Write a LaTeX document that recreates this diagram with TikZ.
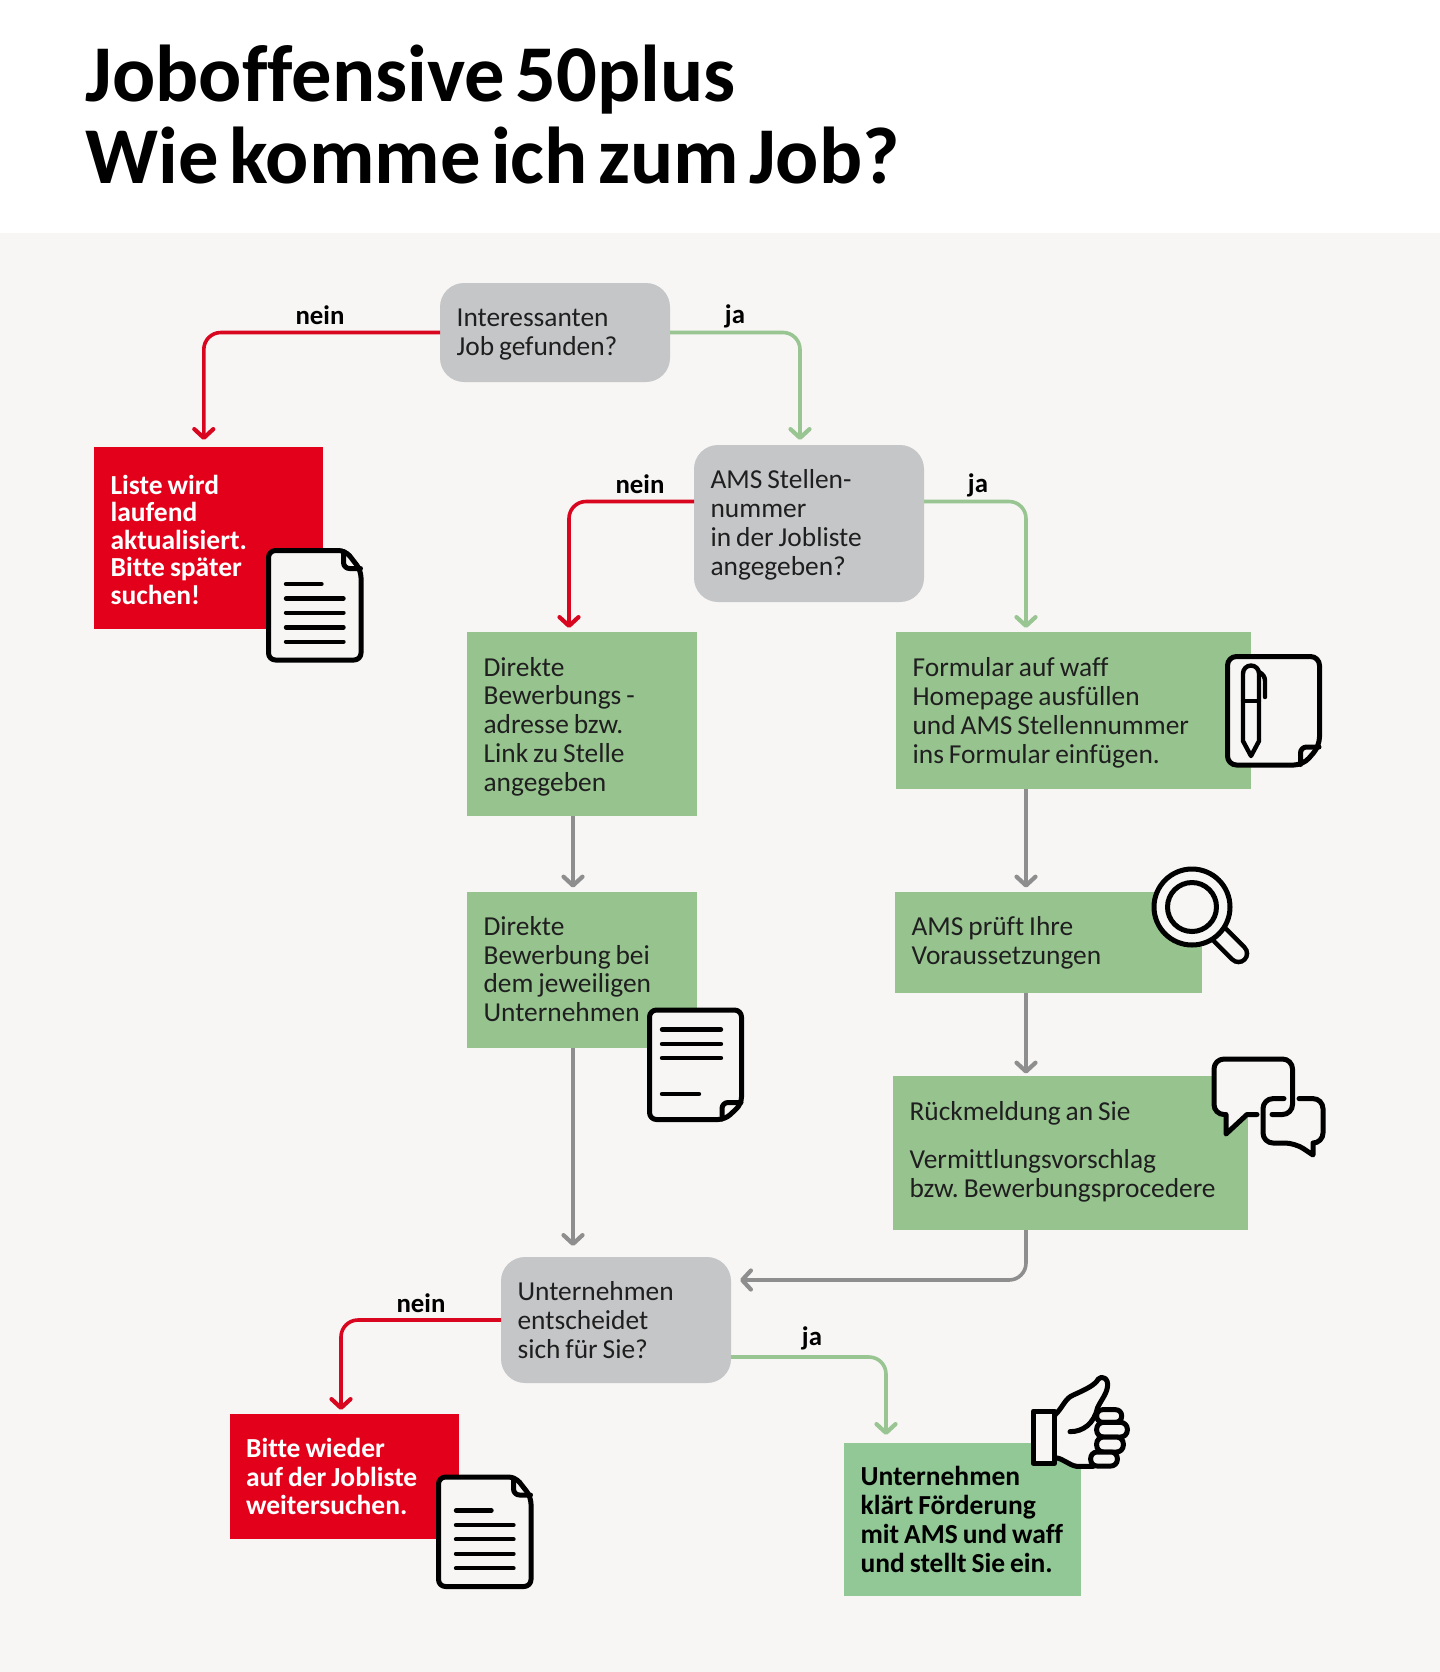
\documentclass[tikz,border=0pt]{standalone}
\usepackage{fontspec}
\setmainfont[Ligatures=NoCommon]{Carlito}
\frenchspacing
\usetikzlibrary{arrows.meta}
\definecolor{bgc}{HTML}{F7F6F4}
\definecolor{boxgreen}{HTML}{97C38F}
\definecolor{fingreen}{HTML}{92C796}
\definecolor{boxgray}{HTML}{C5C6C8}
\definecolor{boxred}{HTML}{E2001A}
\definecolor{lnred}{HTML}{D8071F}
\definecolor{lngreen}{HTML}{98C592}
\definecolor{lngray}{HTML}{8E8E8E}
\newcommand\topfix[1]{\rule{0pt}{#1}}
\newcommand\botfix[1]{\rule[-#1]{0pt}{#1}}
\newcommand\bodyface{\fontsize{13.7}{14.4}\selectfont\spaceskip=.18em\relax}
\newcommand\boldface{\fontsize{13.75}{14.4}\selectfont\bfseries\spaceskip=.18em\relax}
\newcommand\boldtight{\fontsize{13.75}{13.8}\selectfont\bfseries\spaceskip=.18em\relax}
\newcommand\titleface{\fontsize{40.3}{41}\selectfont\bfseries\spaceskip=.13em\relax}
\tikzset{
  bodyfont/.style={font=\bodyface},
  boldfont/.style={font=\boldface},
  flowbox/.style={inner ysep=0pt,inner xsep=8.3pt,outer sep=0pt,align=flush left,anchor=center},
  greenbox/.style={flowbox,fill=boxgreen,text=black!88,bodyfont},
  finalbox/.style={flowbox,fill=fingreen,text=black,boldfont},
  graybox/.style={flowbox,fill=boxgray,text=black!88,rounded corners=12pt,bodyfont},
  redbox/.style={flowbox,fill=boxred,text=white,boldfont},
  lbl/.style={font=\fontsize{13.4}{14}\selectfont\bfseries,text=black,inner sep=0pt},
  conn/.style={line width=1.8pt,rounded corners=8.5pt,
    -{Straight Barb[length=4.4pt,width=9.5pt,line width=2.1pt,round]},line cap=butt},
  connred/.style={conn,draw=lnred},
  conngreen/.style={conn,draw=lngreen},
  conngray/.style={conn,draw=lngray},
  ic/.style={draw=black,line width=2.5pt,line join=round,line cap=round},
  icthin/.style={draw=black,line width=2.2pt,line join=round,line cap=round},
  docicon/.pic={
    \draw[ic,fill=bgc,rounded corners=3.5pt] (0,0) -- (77,0) -- (92.5,20) -- (92.5,109.5) -- (0,109.5) -- cycle;
    \draw[ic,rounded corners=3pt] (75,1) -- (75,18) -- (92,18);
    \draw[icthin] (17.5,33.5) -- (53,33.5);
    \draw[icthin] (17.5,48) -- (75,48);
    \draw[icthin] (17.5,62.2) -- (75,62.2);
    \draw[icthin] (17.5,76.8) -- (75,76.8);
    \draw[icthin] (17.5,91.2) -- (75,91.2);
  }
}
\begin{document}
\begin{tikzpicture}[x=0.5pt,y=-0.5pt]
\useasboundingbox (0,0) rectangle (1440,1672);
\fill[white] (0,0) rectangle (1440,233);
\fill[bgc] (0,233) rectangle (1440,1672);

\node[font=\titleface,text=black,align=flush left,anchor=west,inner sep=0pt] (title) at (85,115) {Joboffensive 50plus\\Wie komme ich zum Job?};

% decision and step boxes
\node[graybox,minimum height=49.5pt,text width=98.4pt] (q1) at (555,332.5) {\topfix{10.8pt}Interessanten\\Job gefunden?};
\node[redbox,minimum height=91pt,text width=97.9pt,font=\boldtight] (red1) at (208.5,538) {\topfix{11.4pt}Liste wird\\laufend\\aktualisiert.\\Bitte später\\suchen!};
\node[graybox,minimum height=78.5pt,text width=98.4pt] (q2) at (809,523.5) {\topfix{10.9pt}AMS Stellen-\\nummer\\in der Jobliste\\angegeben?};
\node[greenbox,minimum height=92pt,text width=98.4pt] (d1) at (582,724) {\topfix{12pt}Direkte\\Bewerbungs -\\adresse bzw.\\Link zu Stelle\\angegeben};
\node[greenbox,minimum height=78pt,text width=98.4pt] (d2) at (582,970) {Direkte\\Bewerbung bei\\dem jeweiligen\\Unternehmen\botfix{1pt}};
\node[greenbox,minimum height=78.5pt,text width=160.9pt] (form) at (1073.5,710.5) {\topfix{12pt}Formular auf waff\\Homepage ausfüllen\\und AMS Stellennummer\\ins Formular einfügen.};
\node[greenbox,minimum height=50.5pt,text width=136.9pt] (ams) at (1048.5,942.5) {AMS prüft Ihre\\Voraussetzungen};
\node[greenbox,minimum height=77pt,text width=160.9pt] (rueck) at (1070.5,1153) {Rückmeldung an Sie\\[9.5pt]Vermittlungsvorschlag\\bzw. Bewerbungsprocedere\botfix{3.6pt}};
\node[graybox,minimum height=63pt,text width=98.4pt] (q3) at (616,1320) {Unternehmen\\entscheidet\\sich für Sie?};
\node[redbox,minimum height=62.5pt,text width=97.9pt] (red2) at (344,1476.5) {Bitte wieder\\auf der Jobliste\\weitersuchen.};
\node[finalbox,minimum height=76.5pt,text width=101.9pt] (fin) at (962.5,1519.5) {\mbox{Unternehmen}\\\mbox{klärt Förderung}\\\mbox{mit AMS und waff}\\\mbox{und stellt Sie ein.}};

% connector labels
\node[lbl] (l1) at (320,315) {nein};
\node[lbl] (l2) at (735,316) {ja};
\node[lbl] (l3) at (640,484) {nein};
\node[lbl] (l4) at (978,485) {ja};
\node[lbl] (l5) at (421,1303) {nein};
\node[lbl] (l6) at (812,1338) {ja};

% connectors
\draw[connred,shorten >=3.5pt] (q1.west) -| ([xshift=-2.35pt]red1.north);
\draw[conngreen,shorten >=2.5pt] (q1.east) -| ([xshift=-4.5pt]q2.north);
\draw[connred,shorten >=2pt] ([yshift=11pt]q2.west) -| ([xshift=-6.5pt]d1.north);
\draw[conngreen,shorten >=2pt] ([yshift=11pt]q2.east) -| ([xshift=-23.75pt]form.north);
\draw[conngray,shorten >=2.2pt] ([xshift=-4.5pt]d1.south) -- ([xshift=-4.5pt]d2.north);
\draw[conngray,shorten >=5.5pt] ([xshift=-4.5pt]d2.south) -- ([xshift=-21.5pt]q3.north);
\draw[conngray,shorten >=2.2pt] ([xshift=-23.75pt]form.south) -- ([xshift=-11.25pt]ams.north);
\draw[conngray,shorten >=1.2pt] ([xshift=-11.25pt]ams.south) -- ([xshift=-22.25pt]rueck.north);
\draw[conngray,shorten >=4.5pt] ([xshift=-22.25pt]rueck.south) |- ([yshift=20pt]q3.east);
\draw[connred,shorten >=2pt] (q3.west) -| ([xshift=-1.5pt]red2.north);
\draw[conngreen,shorten >=4pt] ([yshift=-18.5pt]q3.east) -| ([xshift=-38.25pt]fin.north);

% document icons
\pic at (268.5,550.5) {docicon};
\pic at (438.5,1477) {docicon};

% document icon with corner fold at the bottom
\draw[ic,fill=bgc,rounded corners=3.5pt] (649.5,1010) -- (741.5,1010) -- (741.5,1104) -- (725,1119.5) -- (649.5,1119.5) -- cycle;
\draw[ic,rounded corners=3pt] (741,1102.5) -- (722,1102.5) -- (722,1119);
\draw[icthin] (662,1029.5) -- (721,1029.5);
\draw[icthin] (662,1044) -- (721,1044);
\draw[icthin] (662,1058) -- (721,1058);
\draw[icthin] (662,1094) -- (699,1094);

% note with pen
\draw[ic,fill=bgc,rounded corners=4.5pt] (1227.5,656.5) -- (1319.5,656.5) -- (1319.5,746) -- (1303,765) -- (1227.5,765) -- cycle;
\draw[ic,rounded corners=3pt] (1319,747) -- (1300.5,747) -- (1300.5,764.5);
\draw[icthin,fill=bgc] (1243,741) -- (1243,673.5) arc[start angle=180,end angle=0,radius=4pt] -- (1259,741) -- (1251,756) -- cycle;
\draw[icthin] (1243,701) -- (1259,701);
\draw[icthin] (1259,672) .. controls (1263,674) and (1265,677) .. (1265,681) -- (1265,697);

% magnifier
\draw[black,line width=10.8pt,line cap=round] (1220,935) -- (1238.5,953.5);
\draw[bgc,line width=6.2pt,line cap=round] (1220,935) -- (1238.5,953.5);
\draw[ic,fill=bgc] (1192,907) circle[radius=19pt];
\draw[ic] (1192,907) circle[radius=12.25pt];

% speech bubbles
\fill[bgc,rounded corners=5pt] (1214,1059) rectangle (1292.5,1114.5);
\fill[bgc] (1226,1114) -- (1226,1134) -- (1247,1114) -- cycle;
\fill[bgc,rounded corners=5pt] (1263,1098.6) rectangle (1323,1143);
\fill[bgc] (1295,1143) -- (1313,1155) -- (1313,1143) -- cycle;
\draw[ic] (1257,1114.5) [sharp corners] -- (1247,1114.5) -- (1226,1134) -- (1226,1114.5) [rounded corners=5pt] -- (1214,1114.5) -- (1214,1059) -- (1292.5,1059) -- (1292.5,1114.5) -- (1272,1114.5);
\draw[ic] (1284,1098.6) [rounded corners=5pt] -- (1263,1098.6) -- (1263,1143) -- (1295,1143) [sharp corners] -- (1313,1155) -- (1313,1143) [rounded corners=5pt] -- (1323,1143) -- (1323,1098.6) -- (1299,1098.6);

% thumbs up
\begin{scope}[shift={(1020,1365)},x=0.16667pt,y=-0.16667pt]
  \fill[bgc] (105,150) .. controls (130,125) and (135,100) .. (160,90) .. controls (200,72) and (225,60) .. (235,42) .. controls (245,30) and (268,40) .. (262,68) .. controls (258,90) and (240,110) .. (232,130) -- (300,140) -- (320,190) -- (300,300) -- (170,305) .. controls (145,300) and (130,280) .. (105,278) -- cycle;
  \draw[ic] (105,150) .. controls (130,125) and (135,100) .. (160,90) .. controls (200,72) and (225,60) .. (235,42) .. controls (245,30) and (268,40) .. (262,68) .. controls (258,90) and (240,110) .. (232,130);
  \draw[ic] (232,130) .. controls (222,175) and (190,200) .. (150,200);
  \draw[ic] (105,278) .. controls (130,280) and (145,300) .. (170,304) -- (220,304);
  \draw[ic,fill=bgc,rounded corners=3pt] (230,134) rectangle (305,172);
  \draw[ic,fill=bgc,rounded corners=3.4pt] (230,172) rectangle (322,216);
  \draw[ic,fill=bgc,rounded corners=3.4pt] (230,216) rectangle (310,261);
  \draw[ic,fill=bgc,rounded corners=3.2pt] (212,261) rectangle (292,303);
  \draw[ic,fill=bgc] (40,138) rectangle (103,295);
\end{scope}
\end{tikzpicture}
\end{document}
